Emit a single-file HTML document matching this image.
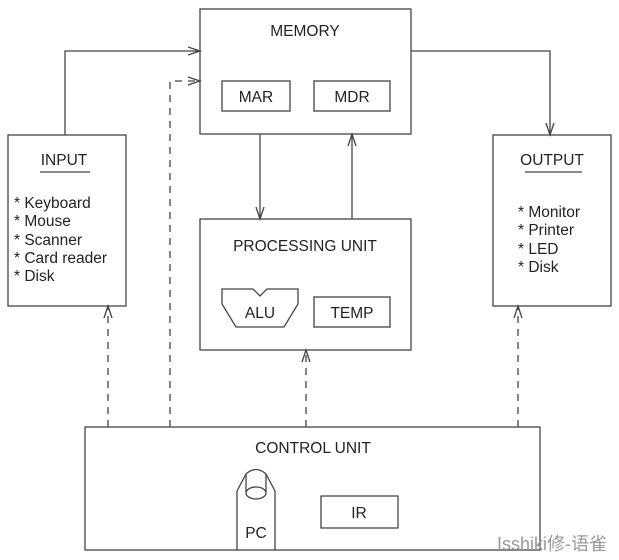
<!DOCTYPE html>
<html><head><meta charset="utf-8"><style>
html,body{margin:0;padding:0;background:#fff;}
svg{display:block}
text{font-family:"Liberation Sans",sans-serif;fill:#222;}
</style></head><body>
<svg width="619" height="560" viewBox="0 0 619 560" xmlns="http://www.w3.org/2000/svg">
<g fill="none" stroke="#444" stroke-width="1.3">
<rect x="200" y="9" width="211" height="125"/>
<rect x="222" y="81" width="68" height="30"/>
<rect x="314" y="81" width="76" height="30"/>
<rect x="200" y="219" width="211" height="131"/>
<rect x="314" y="297" width="76" height="30"/>
<path d="M222 289 H253 L260 296 L267 289 H298 V304 L284 327 H236 L222 304 Z"/>
<rect x="8" y="135" width="118" height="171"/>
<rect x="493" y="135" width="118" height="171"/>
<rect x="85" y="427" width="455" height="123"/>
<rect x="321" y="496" width="77" height="32"/>
<path d="M237 550 V491 L246 474 Q256 465 266 474 L275 491 V550"/>
<path d="M246 474 V492 M266 474 V492"/>
<ellipse cx="256" cy="493" rx="10" ry="6"/>
<line x1="40" y1="172" x2="90" y2="172"/>
<line x1="525" y1="172" x2="582" y2="172"/>
<path d="M65 135 V51 H200"/>
<path d="M188 47 L200 51 L188 55"/>
<path d="M411 51 H550 V135"/>
<path d="M546 123 L550 135 L554 123"/>
<path d="M260 134 V219"/>
<path d="M256 207 L260 219 L264 207"/>
<path d="M352 219 V134"/>
<path d="M348 146 L352 134 L356 146"/>
<g stroke-dasharray="7,6">
<path d="M170 427 V81 H200"/>
<path d="M108 427 V306"/>
<path d="M306 427 V350"/>
<path d="M518 427 V306"/>
</g>
<path d="M188 77 L200 81 L188 85"/>
<path d="M104 318 L108 306 L112 318"/>
<path d="M302 362 L306 350 L310 362"/>
<path d="M514 318 L518 306 L522 318"/>
</g>
<g font-size="15.5">
<text x="305" y="36" text-anchor="middle">MEMORY</text>
<text x="256" y="102" text-anchor="middle">MAR</text>
<text x="352" y="102" text-anchor="middle">MDR</text>
<text x="305" y="251" text-anchor="middle">PROCESSING UNIT</text>
<text x="260" y="318" text-anchor="middle">ALU</text>
<text x="352" y="318" text-anchor="middle">TEMP</text>
<text x="64" y="165" text-anchor="middle">INPUT</text>
<text x="552" y="165" text-anchor="middle">OUTPUT</text>
<text x="313" y="453" text-anchor="middle">CONTROL UNIT</text>
<text x="359" y="518" text-anchor="middle">IR</text>
<text x="256" y="538" text-anchor="middle">PC</text>
<text x="14" y="208">* Keyboard</text>
<text x="14" y="226">* Mouse</text>
<text x="14" y="245">* Scanner</text>
<text x="14" y="263">* Card reader</text>
<text x="14" y="281">* Disk</text>
<text x="518" y="217">* Monitor</text>
<text x="518" y="235">* Printer</text>
<text x="518" y="254">* LED</text>
<text x="518" y="272">* Disk</text>
</g>
<text x="497" y="550" font-size="18" style="font-family:'Liberation Sans','Noto Sans CJK SC',sans-serif;fill:#999">Isshiki修-语雀</text>
</svg>
</body></html>
